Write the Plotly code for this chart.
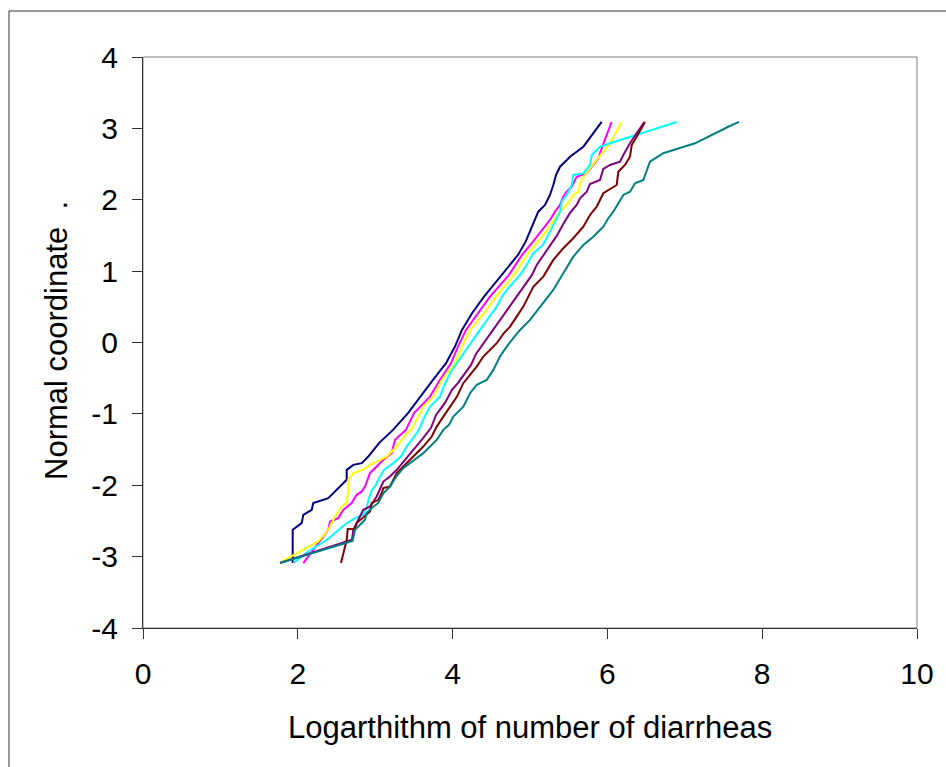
import plotly.graph_objects as go

# ---- data (log number of diarrheas vs normal coordinate) ----
navy_x = [1.934, 1.934, 2.050, 2.071, 2.180, 2.200, 2.394, 2.503, 2.632, 2.632, 2.717, 2.826,
          2.911, 3.049, 3.230, 3.424, 3.579, 3.747, 3.915, 4.031, 4.121, 4.251, 4.406, 4.638,
          4.845, 4.944, 5.000, 5.043, 5.107, 5.194, 5.258, 5.301, 5.336, 5.388, 5.517, 5.689, 5.926]
navy_y = [-3.090, -2.624, -2.530, -2.414, -2.344, -2.250, -2.180, -2.064, -1.924, -1.784, -1.714, -1.690,
          -1.598, -1.410, -1.224, -0.990, -0.758, -0.524, -0.290, -0.057, 0.176, 0.410, 0.643, 0.947,
          1.227, 1.413, 1.553, 1.647, 1.833, 1.927, 2.067, 2.207, 2.347, 2.463, 2.603, 2.743, 3.090]

magenta_x = [2.071, 2.265, 2.394, 2.416, 2.523, 2.588, 2.696, 2.761, 2.826, 2.868, 2.933, 3.019,
             3.105, 3.213, 3.256, 3.398, 3.501, 3.708, 3.837, 3.979, 4.070, 4.173, 4.328, 4.483,
             4.729, 4.897, 5.039, 5.142, 5.258, 5.323, 5.388, 5.430, 5.474, 5.539, 5.603, 5.733,
             5.818, 5.883, 5.926, 6.055]
magenta_y = [-3.090, -2.811, -2.624, -2.508, -2.460, -2.344, -2.250, -2.134, -2.088, -2.018, -1.830, -1.738,
             -1.644, -1.550, -1.364, -1.224, -0.990, -0.758, -0.524, -0.290, -0.057, 0.176, 0.410, 0.643,
             0.947, 1.227, 1.413, 1.553, 1.717, 1.833, 1.927, 2.043, 2.113, 2.183, 2.323, 2.371,
             2.487, 2.581, 2.721, 3.090]

yellow_x = [1.792, 2.265, 2.394, 2.481, 2.567, 2.632, 2.652, 2.652, 2.717, 2.842, 2.933, 3.062,
            3.149, 3.278, 3.407, 3.463, 3.553, 3.621, 3.747, 3.863, 4.031, 4.121, 4.225, 4.406,
            4.561, 4.793, 4.961, 5.103, 5.207, 5.297, 5.388, 5.491, 5.559, 5.624, 5.646, 5.711,
            5.775, 5.840, 5.947, 6.034, 6.185]
yellow_y = [-3.070, -2.788, -2.624, -2.438, -2.298, -2.250, -2.064, -1.924, -1.830, -1.784, -1.714, -1.644,
            -1.598, -1.458, -1.270, -1.224, -1.038, -0.898, -0.758, -0.524, -0.290, -0.057, 0.176, 0.410,
            0.643, 0.947, 1.227, 1.413, 1.553, 1.693, 1.833, 1.951, 2.067, 2.113, 2.231, 2.347,
            2.441, 2.533, 2.673, 2.791, 3.090]

cyan_x = [1.942, 2.136, 2.377, 2.523, 2.632, 2.739, 2.846, 2.890, 2.911, 2.959, 2.997, 3.062,
          3.114, 3.234, 3.333, 3.407, 3.475, 3.566, 3.618, 3.708, 3.837, 3.902, 3.992, 4.096,
          4.225, 4.354, 4.461, 4.570, 4.638, 4.699, 4.871, 4.957, 5.043, 5.168, 5.258, 5.323,
          5.388, 5.409, 5.474, 5.539, 5.559, 5.689, 5.775, 5.797, 5.904, 6.034, 6.292, 6.895]
cyan_y = [-3.090, -2.928, -2.764, -2.624, -2.530, -2.460, -2.414, -2.320, -2.204, -2.064, -2.018, -1.878,
          -1.784, -1.690, -1.598, -1.458, -1.364, -1.224, -1.084, -0.898, -0.758, -0.570, -0.384, -0.220,
          -0.010, 0.176, 0.340, 0.503, 0.643, 0.737, 0.947, 1.087, 1.251, 1.367, 1.553, 1.693,
          1.833, 1.973, 2.067, 2.207, 2.347, 2.371, 2.487, 2.627, 2.743, 2.791, 2.883, 3.090]

purple_x = [1.770, 2.700, 2.717, 2.761, 2.846, 2.933, 3.019, 3.105, 3.191, 3.278, 3.363, 3.450,
            3.536, 3.621, 3.721, 3.786, 3.902, 3.992, 4.070, 4.160, 4.238, 4.302, 4.412, 4.496,
            4.570, 4.677, 4.767, 4.828, 4.957, 5.026, 5.087, 5.216, 5.345, 5.430, 5.517, 5.603,
            5.646, 5.733, 5.775, 5.904, 5.947, 6.034, 6.163, 6.206, 6.292, 6.378, 6.477]
purple_y = [-3.090, -2.764, -2.624, -2.530, -2.344, -2.298, -2.158, -1.948, -1.878, -1.784, -1.672, -1.574,
            -1.458, -1.336, -1.196, -1.014, -0.846, -0.664, -0.566, -0.426, -0.314, -0.160, 0.008, 0.134,
            0.246, 0.410, 0.550, 0.643, 0.830, 0.947, 1.087, 1.297, 1.493, 1.661, 1.815, 1.927,
            2.021, 2.113, 2.221, 2.277, 2.431, 2.487, 2.533, 2.627, 2.791, 2.931, 3.090]

maroon_x = [2.558, 2.632, 2.645, 2.739, 2.761, 2.933, 2.955, 3.040, 3.084, 3.105, 3.191, 3.278,
            3.363, 3.450, 3.536, 3.621, 3.730, 3.795, 3.880, 3.966, 4.057, 4.138, 4.225, 4.311,
            4.397, 4.483, 4.570, 4.655, 4.742, 4.828, 4.913, 5.043, 5.172, 5.301, 5.430, 5.559,
            5.689, 5.775, 5.862, 5.947, 6.055, 6.120, 6.141, 6.227, 6.292, 6.314, 6.378, 6.486]
maroon_y = [-3.090, -2.764, -2.614, -2.614, -2.530, -2.368, -2.250, -2.204, -2.110, -2.040, -2.018, -1.830,
            -1.738, -1.644, -1.550, -1.458, -1.318, -1.178, -1.038, -0.898, -0.758, -0.570, -0.454, -0.337,
            -0.197, -0.104, -0.010, 0.120, 0.223, 0.363, 0.503, 0.779, 0.923, 1.157, 1.321, 1.461,
            1.623, 1.787, 1.903, 2.091, 2.161, 2.207, 2.393, 2.487, 2.603, 2.767, 2.883, 3.090]

teal_x = [1.770, 2.707, 2.739, 2.868, 2.890, 2.955, 3.040, 3.105, 3.191, 3.278, 3.363, 3.450,
          3.536, 3.621, 3.708, 3.795, 3.880, 3.953, 4.009, 4.138, 4.225, 4.311, 4.441, 4.526,
          4.612, 4.699, 4.784, 4.871, 5.000, 5.129, 5.301, 5.430, 5.559, 5.689, 5.818, 5.947,
          6.012, 6.076, 6.141, 6.206, 6.292, 6.357, 6.464, 6.508, 6.550, 6.722, 7.132, 7.562, 7.700]
teal_y = [-3.090, -2.781, -2.624, -2.484, -2.390, -2.318, -2.248, -2.113, -2.018, -1.868, -1.760, -1.690,
          -1.609, -1.550, -1.458, -1.364, -1.224, -1.154, -1.038, -0.898, -0.710, -0.594, -0.524, -0.384,
          -0.197, -0.057, 0.060, 0.176, 0.316, 0.503, 0.737, 0.970, 1.203, 1.367, 1.483, 1.623,
          1.741, 1.833, 1.951, 2.067, 2.113, 2.231, 2.277, 2.417, 2.533, 2.651, 2.791, 3.023, 3.090]

x_ticks = [0, 2, 4, 6, 8, 10]
x_tick_text = ["0", "2", "4", "6", "8", "10"]
y_ticks = [-4, -3, -2, -1, 0, 1, 2, 3, 4]
y_tick_text = ["-4", "-3", "-2", "-1", "0", "1", "2", "3", "4"]
x_title = "Logarthithm of number of diarrheas"
y_title = "Normal coordinate  ."

series = [
    ("navy", navy_x, navy_y, "#000080"),
    ("magenta", magenta_x, magenta_y, "#FF00FF"),
    ("yellow", yellow_x, yellow_y, "#FFFF00"),
    ("cyan", cyan_x, cyan_y, "#00FFFF"),
    ("purple", purple_x, purple_y, "#800080"),
    ("maroon", maroon_x, maroon_y, "#800000"),
    ("teal", teal_x, teal_y, "#008080"),
]

FONT = "Liberation Sans, Arial, sans-serif"

fig = go.Figure()
for name, xs, ys, col in series:
    fig.add_trace(go.Scatter(x=xs, y=ys, mode="lines", name=name,
                             line=dict(color=col, width=2), hoverinfo="skip"))

W, H = 946, 767
L, R, T, B = 143, 29, 57, 139
pw, ph = W - L - R, H - T - B

def px2paper_x(px):
    return (px - L) / pw

def py2paper_y(py):
    return (H - B - py) / ph

axis_common = dict(showgrid=False, zeroline=False, showline=True, linecolor="#333333",
                   linewidth=1, ticks="outside", ticklen=10, tickwidth=1, tickcolor="#333333",
                   tickfont=dict(family=FONT, size=30, color="black"), mirror=False)

fig.update_layout(
    width=W, height=H,
    margin=dict(l=L, r=R, t=T, b=B, autoexpand=False),
    paper_bgcolor="white", plot_bgcolor="white",
    showlegend=False,
    xaxis=dict(range=[0, 10], tickvals=x_ticks, ticktext=x_tick_text,
               ticklabelstandoff=9, **axis_common),
    yaxis=dict(range=[-4, 4], tickvals=y_ticks, ticktext=y_tick_text,
               ticklabelstandoff=8, **axis_common),
    shapes=[
        # gray plot-area border (top/right)
        dict(type="rect", xref="paper", yref="paper", x0=0, x1=1, y0=0, y1=1,
             line=dict(color="#808080", width=1), layer="below"),
        # outer chart frame (left/top visible)
        dict(type="rect", xref="paper", yref="paper",
             x0=px2paper_x(9), x1=px2paper_x(980), y0=py2paper_y(800), y1=py2paper_y(11),
             line=dict(color="#333333", width=1)),
    ],
    annotations=[
        dict(text=x_title, xref="paper", yref="paper", x=0.5, y=py2paper_y(727),
             xanchor="center", yanchor="middle", showarrow=False,
             font=dict(family=FONT, size=31, color="black")),
        dict(text=y_title, xref="paper", yref="paper", x=px2paper_x(56), y=py2paper_y(341),
             xanchor="center", yanchor="middle", showarrow=False, textangle=-90,
             font=dict(family=FONT, size=31, color="black")),
    ],
)

fig.write_html("out.html", config={"displayModeBar": False},
               post_script="document.body.style.margin='0px';document.body.style.overflow='hidden';")
